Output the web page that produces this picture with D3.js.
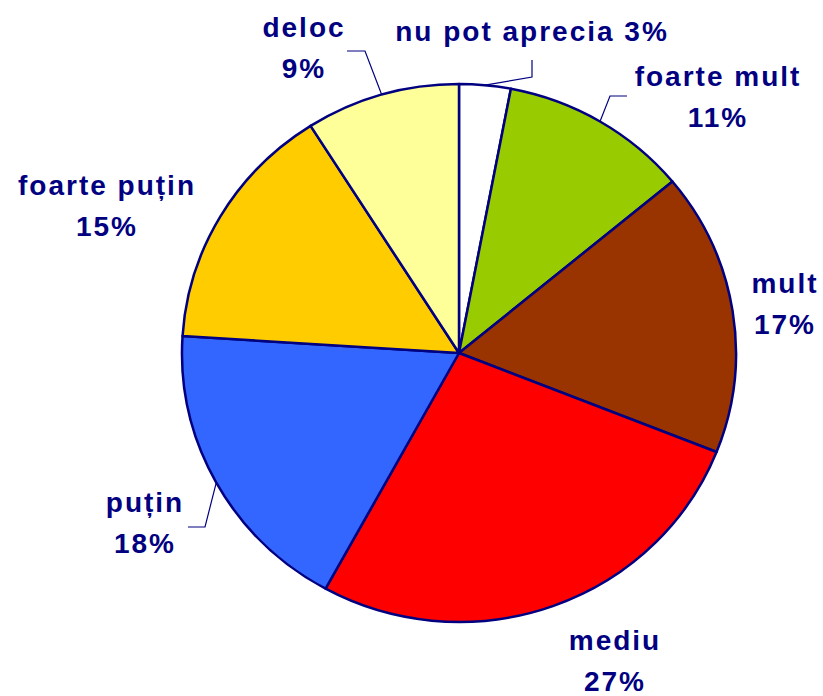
<!DOCTYPE html>
<html>
<head>
<meta charset="utf-8">
<script src="https://cdn.jsdelivr.net/npm/d3@7"></script>
<style>
  html, body { margin: 0; padding: 0; background: #fff; }
  svg { display: block; }
  .lbl { font-family: "Liberation Sans", Arial, sans-serif; font-weight: bold; font-size: 28px; fill: #000080; letter-spacing: 2px; }
</style>
</head>
<body>
<script>
// Survey answers, clockwise from 12 o'clock
const categories = ["nu pot aprecia", "foarte mult", "mult", "mediu", "puțin", "foarte puțin", "deloc"];
const values = [3, 11, 17, 27, 18, 15, 9];
const colors = ["#FFFFFF", "#99CC00", "#993300", "#FF0000", "#3366FF", "#FFCC00", "#FFFF99"];

// Label placement: text anchor point (x, y of first line baseline), single-line flag, leader elbow and end
const labelLayout = [
  { x: 532, y: 41, oneLine: true,  leader: [[532, 77], [532, 60]] },
  { x: 718, y: 86, oneLine: false, leader: [[610, 96], [627, 96]] },
  { x: 785, y: 293, oneLine: false, leader: null },
  { x: 615, y: 650, oneLine: false, leader: null },
  { x: 145, y: 512, oneLine: false, leader: [[205, 527], [188, 527]] },
  { x: 107, y: 195, oneLine: false, leader: null },
  { x: 304, y: 37, oneLine: false, leader: [[365, 51], [347, 51]] }
];

const W = 823, H = 696;
const cx = 459, cy = 353, rx = 277, ry = 269;
const yScale = ry / rx;
const navy = "#000080";
const lineGap = 41;

const svg = d3.select("body").append("svg").attr("width", W).attr("height", H);

const pie = d3.pie().sort(null).value(d => d)(values);
const arc = d3.arc().innerRadius(0).outerRadius(rx);
const rim = d3.arc().innerRadius(rx).outerRadius(rx);

const g = svg.append("g").attr("transform", `translate(${cx},${cy}) scale(1,${yScale})`);
g.selectAll("path.slice")
  .data(pie)
  .join("path")
  .attr("class", "slice")
  .attr("d", arc)
  .attr("fill", (d, i) => colors[i])
  .attr("stroke", navy)
  .attr("stroke-width", 2.5)
  .attr("stroke-linejoin", "round")
  .attr("vector-effect", "non-scaling-stroke");

// Leader lines from the slice rim to the label
pie.forEach((d, i) => {
  const L = labelLayout[i];
  if (!L.leader) return;
  const c = rim.centroid(d);
  const start = [cx + c[0], cy + c[1] * yScale];
  svg.append("path")
    .attr("d", d3.line()([start, ...L.leader]))
    .attr("fill", "none")
    .attr("stroke", navy)
    .attr("stroke-width", 1.2);
});

// Category and percentage labels
pie.forEach((d, i) => {
  const L = labelLayout[i];
  const t = svg.append("text").attr("class", "lbl").attr("text-anchor", "middle");
  if (L.oneLine) {
    t.append("tspan").attr("x", L.x).attr("y", L.y).text(`${categories[i]} ${values[i]}%`);
  } else {
    t.append("tspan").attr("x", L.x).attr("y", L.y).text(categories[i]);
    t.append("tspan").attr("x", L.x).attr("y", L.y + lineGap).text(`${values[i]}%`);
  }
});
</script>
</body>
</html>
